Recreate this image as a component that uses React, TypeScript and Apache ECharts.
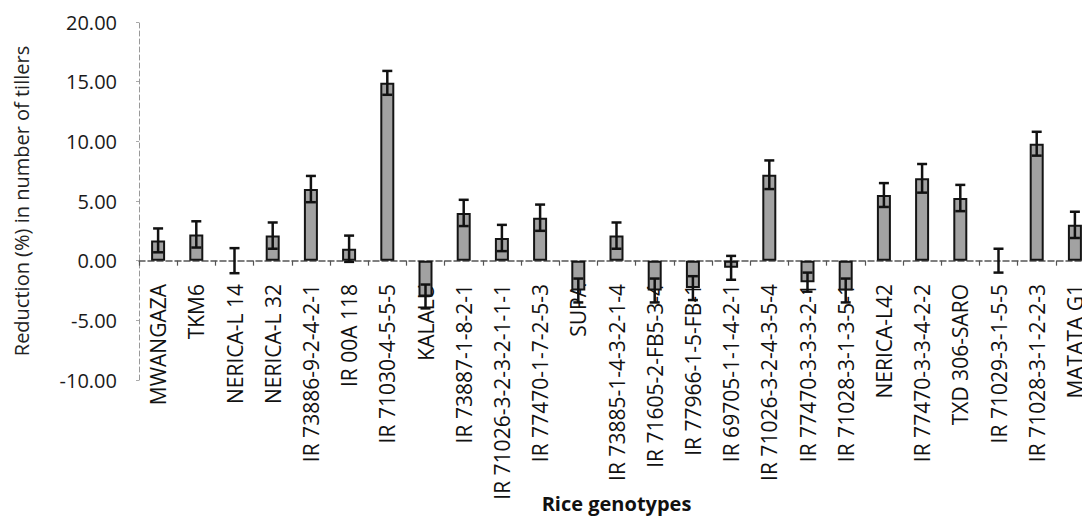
import React, { useEffect, useRef } from "react";
import * as echarts from "echarts";

const categories = [
  "MWANGAZA",
  "TKM6",
  "NERICA-L 14",
  "NERICA-L 32",
  "IR 73886-9-2-4-2-1",
  "IR 00A 118",
  "IR 71030-4-5-5-5",
  "KALALU",
  "IR 73887-1-8-2-1",
  "IR 71026-3-2-3-2-1-1-1",
  "IR 77470-1-7-2-5-3",
  "SUPA",
  "IR 73885-1-4-3-2-1-4",
  "IR 71605-2-FB5-3-4",
  "IR 77966-1-5-FB-1",
  "IR 69705-1-1-4-2-1",
  "IR 71026-3-2-4-3-5-4",
  "IR 77470-3-3-3-2-1",
  "IR 71028-3-1-3-5-1",
  "NERICA-L42",
  "IR 77470-3-3-4-2-2",
  "TXD 306-SARO",
  "IR 71029-3-1-5-5",
  "IR 71028-3-1-2-2-3",
  "MATATA G1",
];

const values = [
  1.7, 2.2, 0, 2.1, 6.0, 1.0, 14.9, -3.0, 4.0, 1.9, 3.6, -2.5, 2.1, -2.5,
  -2.3, -0.6, 7.2, -1.8, -2.5, 5.5, 6.9, 5.25, 0, 9.8, 3.0,
];

const errors = [
  1.0, 1.1, 1.05, 1.1, 1.1, 1.1, 1.0, 1.0, 1.1, 1.1, 1.1, 1.0, 1.1, 1.0,
  1.0, 1.0, 1.2, 0.8, 1.0, 1.0, 1.2, 1.1, 1.0, 1.0, 1.1,
];

const yTicks = { min: -10, max: 20, interval: 5 };

export default function App() {
  const ref = useRef<HTMLDivElement>(null);

  useEffect(() => {
    if (!ref.current) return;
    const chart = echarts.init(ref.current, null, { renderer: "svg" });
    const font = "'Open Sans', sans-serif";

    const barData = values.map((v) =>
      v === 0 ? { value: v, itemStyle: { borderWidth: 0 } } : v
    );
    const errData = values.map((v, i) => [i, v, errors[i]]);

    chart.setOption({
      animation: false,
      backgroundColor: "#ffffff",
      grid: {
        left: 139,
        right: -12,
        top: 22,
        bottom: 145,
        containLabel: false,
        outerBoundsMode: "none",
      },
      xAxis: {
        type: "category",
        data: categories,
        name: "Rice genotypes",
        nameLocation: "middle",
        nameGap: 113,
        nameMoveOverlap: false,
        nameTextStyle: {
          fontFamily: font,
          fontSize: 20,
          fontWeight: "bold",
          color: "#111",
        },
        axisLine: {
          onZero: true,
          lineStyle: { color: "#555", width: 1.5, type: [6, 3] },
        },
        axisTick: {
          show: true,
          length: 5,
          lineStyle: { color: "#555", width: 1.2 },
        },
        axisLabel: {
          rotate: 90,
          interval: 0,
          margin: -96,
          fontFamily: font,
          fontSize: 21,
          color: "#111",
        },
        splitLine: { show: false },
      },
      yAxis: {
        type: "value",
        min: yTicks.min,
        max: yTicks.max,
        interval: yTicks.interval,
        name: "Reduction (%) in number of tillers",
        nameLocation: "middle",
        nameGap: 108,
        nameTextStyle: {
          fontFamily: font,
          fontSize: 20,
          color: "#222",
        },
        axisLine: {
          show: true,
          lineStyle: { color: "#999", width: 1, type: [5, 3] },
        },
        axisTick: { show: true, length: 3, lineStyle: { color: "#aaa" } },
        axisLabel: {
          margin: 22,
          fontFamily: font,
          fontSize: 20,
          color: "#1a1a1a",
          formatter: (v: number) => v.toFixed(2),
        },
        splitLine: { show: false },
      },
      series: [
        {
          type: "bar",
          data: barData,
          barWidth: 14,
          itemStyle: {
            color: "#a2a2a2",
            borderColor: "#141414",
            borderWidth: 2,
          },
          z: 2,
        },
        {
          type: "custom",
          data: errData,
          z: 3,
          renderItem: (params: any, api: any) => {
            const i = api.value(0);
            const v = api.value(1);
            const e = api.value(2);
            const top = api.coord([i, v + e]);
            const bot = api.coord([i, v - e]);
            const hw = 5;
            const style = { stroke: "#111", lineWidth: 2.5 };
            return {
              type: "group",
              children: [
                {
                  type: "line",
                  shape: { x1: top[0], y1: top[1], x2: bot[0], y2: bot[1] },
                  style,
                },
                {
                  type: "line",
                  shape: { x1: top[0] - hw, y1: top[1], x2: top[0] + hw, y2: top[1] },
                  style,
                },
                {
                  type: "line",
                  shape: { x1: bot[0] - hw, y1: bot[1], x2: bot[0] + hw, y2: bot[1] },
                  style,
                },
              ],
            };
          },
        },
      ],
    });

    return () => chart.dispose();
  }, []);

  return (
    <div
      ref={ref}
      style={{ position: "fixed", left: 0, top: 0, width: 1082, height: 525 }}
    />
  );
}
